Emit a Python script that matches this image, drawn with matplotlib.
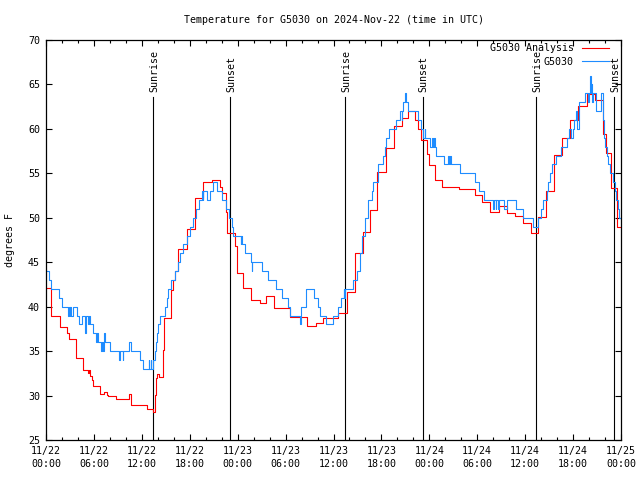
import matplotlib
matplotlib.use("Agg")
import matplotlib.pyplot as plt
from matplotlib.ticker import MultipleLocator

# hours since 11/22 00:00 UTC and temperature (F), step changes
obs_hours = [0.0, 0.38, 0.67, 1.6, 2.05, 2.75, 2.85, 2.95, 3.05, 3.15, 3.4, 3.9, 4.1, 4.55,
             4.9, 4.97, 5.2, 5.35, 5.45, 5.9, 6.2, 6.4, 6.5, 6.85, 6.95, 7.1, 7.2, 7.3, 7.45,
             8.0, 9.2, 9.3, 9.6, 9.7, 10.4, 10.7, 11.76, 12.2, 12.85, 12.9, 13.1, 13.15, 13.4,
             13.6, 13.75, 13.85, 14.05, 14.3, 14.9, 15.1, 15.3, 15.7, 16.15, 16.55, 16.8, 17.2,
             17.6, 18.0, 18.4, 18.8, 19.2, 19.5, 19.6, 19.7, 20.1, 20.5, 20.9, 21.4, 22.1, 22.6,
             22.9, 23.24, 23.45, 24.36, 24.45, 24.53, 24.9, 25.7, 25.75, 25.8, 27.1, 27.8, 28.8,
             29.6, 30.3, 30.6, 31.85, 31.95, 32.5, 33.5, 34.0, 34.3, 35.1, 35.96, 36.6, 37.0,
             37.3, 37.35, 37.5, 38.5, 38.9, 39.3, 39.6, 39.9, 40.3, 40.8, 41.0, 41.6, 42.2, 42.4,
             42.6, 43.0, 43.8, 44.3, 44.55, 44.6, 44.7, 45.0, 45.1, 45.3, 46.6, 46.9, 47.2, 47.4,
             47.5, 48.1, 48.3, 48.4, 48.6, 48.7, 48.8, 49.8, 50.4, 50.5, 50.6, 50.7, 51.9, 53.7,
             54.2, 54.9, 56.0, 56.15, 56.3, 56.4, 56.6, 56.7, 57.4, 57.7, 58.9, 59.7, 61.0, 61.6,
             62.0, 62.2, 62.7, 62.9, 63.1, 63.4, 63.8, 64.5, 65.2, 65.5, 65.8, 66.0, 66.1, 66.4,
             66.5, 66.7, 66.8, 67.5, 67.9, 68.0, 68.1, 68.2, 68.3, 68.4, 68.5, 68.9, 69.5, 69.8,
             69.9, 70.0, 70.2, 70.4, 70.6, 71.0, 71.2, 71.4, 71.6, 71.8, 72.0]
obs_temps = [44, 43, 42, 41, 40, 39, 40, 39, 40, 39, 40, 39, 38, 39,
             37, 39, 38, 39, 38, 37, 36, 37, 36, 35, 36, 35, 36, 37, 36,
             35, 34, 35, 34, 35, 36, 35, 34, 33, 34, 33, 34, 33, 34,
             35, 36, 37, 38, 39, 40, 41, 42, 43, 44, 45, 46, 47,
             48, 49, 50, 51, 52, 53, 52, 53, 52, 53, 54, 53, 52, 51,
             50, 49, 48, 47, 48, 47, 46, 45, 44, 45, 44, 43, 42,
             41, 40, 39, 38, 40, 42, 41, 40, 39, 38, 39, 40, 41,
             42, 41, 42, 43, 44, 46, 48, 50, 52, 53, 54, 56, 57, 58,
             59, 60, 61, 62, 61, 62, 63, 64, 63, 62, 61, 60, 59, 60,
             59, 58, 59, 58, 59, 58, 57, 56, 57, 56, 57, 56, 55, 54,
             53, 52, 51, 52, 51, 52, 51, 52, 51, 52, 51, 50, 49, 50,
             51, 52, 53, 54, 55, 56, 57, 58, 59, 60, 59, 60, 61, 62,
             60, 62, 63, 64, 63, 64, 66, 64, 65, 63, 64, 62, 64, 61,
             59, 58, 57, 56, 55, 54, 53, 52, 51, 50, 50]

anl_hours = [0.0, 0.66, 1.7, 2.67, 2.85, 3.7, 4.67, 5.3, 5.4, 5.5, 5.8, 5.9, 6.76, 7.2, 7.6,
             7.8, 8.76, 10.45, 10.6, 12.7, 13.4, 13.6, 13.75, 13.9, 14.1, 14.6, 14.75, 15.7,
             15.85, 16.15, 16.56, 17.69, 18.65, 19.69, 20.73, 21.78, 21.99, 22.49, 22.61, 23.65,
             23.86, 23.95, 24.7, 25.7, 26.8, 27.6, 28.6, 30.5, 32.7, 33.8, 34.7, 36.6, 37.7,
             38.7, 39.7, 40.55, 41.5, 42.6, 43.6, 44.6, 45.3, 46.2, 46.6, 46.9, 47.73, 47.98,
             48.7, 49.6, 51.7, 53.7, 54.6, 55.6, 56.7, 57.7, 58.7, 59.7, 60.7, 61.6, 62.65,
             63.55, 64.6, 65.6, 66.6, 67.7, 68.7, 69.7, 69.8, 70.1, 70.7, 71.5, 72.0]
anl_temps = [42.1, 38.9, 37.7, 37.0, 36.4, 34.2, 32.9, 32.5, 32.9, 32.2, 31.7, 31.1, 30.2, 30.4,
             30.1, 30.0, 29.6, 30.2, 28.9, 28.45, 28.2, 30.1, 32.0, 32.4, 32.1, 35.1, 38.7, 41.9,
             43.0, 44.0, 46.5, 48.7, 52.2, 54.0, 54.2, 53.5, 52.8, 50.6, 48.3, 46.8,
             45.3, 43.8, 42.1, 40.8, 40.4, 41.2, 39.8, 38.8, 37.8, 38.2, 38.7, 39.3, 41.7,
             46.0, 48.4, 50.9, 55.2, 57.9, 60.3, 61.2, 62.0, 61.0, 60.0, 58.7, 57.2, 55.9,
             54.2, 53.5, 53.2, 52.6, 51.8, 50.7, 51.3, 50.5, 50.2, 49.4, 48.3, 50.1, 53.0,
             57.1, 59.0, 61.0, 62.6, 63.9, 63.2, 60.9, 59.4, 57.3, 53.3, 49.0, 49.0]

sunrise_hours = [13.45, 37.42, 61.38]
sunset_hours = [23.1, 47.15, 71.1]

tick_hours = list(range(0, 73, 6))
tick_labels = ["11/22\n00:00", "11/22\n06:00", "11/22\n12:00", "11/22\n18:00",
               "11/23\n00:00", "11/23\n06:00", "11/23\n12:00", "11/23\n18:00",
               "11/24\n00:00", "11/24\n06:00", "11/24\n12:00", "11/24\n18:00",
               "11/25\n00:00"]

plt.rcParams['font.family'] = ['DejaVu Sans Mono']
fs = 7.2

fig = plt.figure(figsize=(6.4, 4.8), dpi=100)
ax = fig.add_axes([46 / 640, 40 / 480, 575 / 640, 400 / 480])

for h in sunrise_hours:
    ax.axvline(h, ymin=0, ymax=0.8575, color='black', lw=0.8)
    ax.text(h + 0.15, 0.87, "Sunrise", rotation=90, ha='center', va='bottom',
            fontsize=fs, transform=ax.get_xaxis_transform())
for h in sunset_hours:
    ax.axvline(h, ymin=0, ymax=0.8575, color='black', lw=0.8)
    ax.text(h + 0.15, 0.87, "Sunset", rotation=90, ha='center', va='bottom',
            fontsize=fs, transform=ax.get_xaxis_transform())

l1, = ax.plot(anl_hours, anl_temps, drawstyle='steps-post', color='#ff0000', lw=0.8,
              label='G5030 Analysis')
l2, = ax.plot(obs_hours, obs_temps, drawstyle='steps-post', color='#1e8cff', lw=0.8,
              label='G5030')

ax.set_xlim(0, 72)
ax.set_ylim(25, 70)
ax.set_xticks(tick_hours)
ax.set_xticklabels(tick_labels, linespacing=1.35)
ax.xaxis.set_minor_locator(MultipleLocator(2))
ax.yaxis.set_major_locator(MultipleLocator(5))
ax.tick_params(axis='both', which='major', direction='in', top=True, right=True,
               length=4.3, width=0.8, labelsize=fs, pad=4.3)
ax.tick_params(axis='x', which='minor', direction='in', top=True, length=2.2, width=0.8)
for s in ax.spines.values():
    s.set_linewidth(0.9)

ax.legend(handles=[l1, l2], loc='upper right', bbox_to_anchor=(0.979, 0.992),
          markerfirst=False, frameon=False, fontsize=fs, borderpad=0, borderaxespad=0,
          handlelength=2.7, handletextpad=0.8, labelspacing=0.35)

fig.text(333.5 / 640, 1 - 20 / 480, "Temperature for G5030 on 2024-Nov-22 (time in UTC)",
         ha='center', va='center', fontsize=fs)
fig.text(10 / 640, 0.5, "degrees F", rotation=90, ha='center', va='center', fontsize=fs)

fig.savefig("out.png", dpi=100)
